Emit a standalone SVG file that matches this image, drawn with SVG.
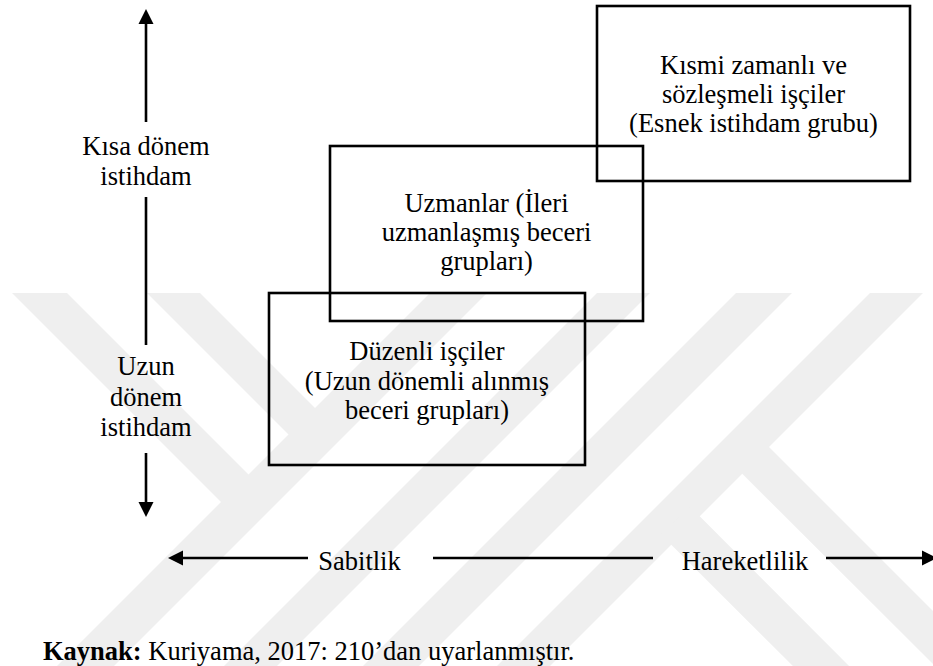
<svg xmlns="http://www.w3.org/2000/svg" width="933" height="666" viewBox="0 0 933 666">
  <defs>
    <marker id="head" markerUnits="userSpaceOnUse" markerWidth="16" markerHeight="16" refX="0" refY="7.5" orient="auto" overflow="visible">
      <path d="M0,0 L15,7.5 L0,15 Z" fill="#000"/>
    </marker>
    <style>
      .wm { fill: #efefef; stroke: none; }
      .box { fill: none; stroke: #000; stroke-width: 2.6; }
      .axis { fill: none; stroke: #000; stroke-width: 2.6; }
      .arrow { marker-end: url(#head); }
      text { font-family: 'Liberation Serif', 'Times New Roman', 'DejaVu Serif', serif; font-size: 26.5px; fill: #000; }
      .c { text-anchor: middle; }
      .b { font-weight: bold; }
    </style>
  </defs>
  <rect x="0" y="0" width="933" height="666" fill="#ffffff"/>

  <g id="watermark">
    <polygon class="wm" points="12,293 67,293 262.5,488.5 235,516"/>
    <polygon class="wm" points="147,293 200,293 329,422 302.5,448.5"/>
    <polygon class="wm" points="430,293 487,293 80,700 23,700"/>
    <polygon class="wm" points="597,293 650,293 243,700 190,700"/>
    <polygon class="wm" points="736,293 792,293 385,700 329,700"/>
    <polygon class="wm" points="870,293 923,293 516,700 463,700"/>
    <polygon class="wm" points="757,435 1022,700 969,700 730,461.5"/>
    <polygon class="wm" points="690,506.5 883,700 827,700 661,534.5"/>
  </g>

  <g id="connectors">
    <line class="axis arrow" x1="146" y1="122" x2="146" y2="24"/>
    <line class="axis" x1="146" y1="197" x2="146" y2="345"/>
    <line class="axis arrow" x1="146" y1="453" x2="146" y2="502"/>
    <line class="axis arrow" x1="308" y1="558" x2="183" y2="558"/>
    <line class="axis" x1="433" y1="558" x2="653" y2="558"/>
    <line class="axis arrow" x1="826" y1="558" x2="922" y2="558"/>
  </g>

  <g font-family="Liberation Serif, Times New Roman, serif">
    <g id="label-short-term">
      <text class="c" x="146" y="155">Kısa dönem</text>
      <text class="c" x="146" y="184.5">istihdam</text>
    </g>
    <g id="label-long-term">
      <text class="c" x="146" y="375">Uzun</text>
      <text class="c" x="146" y="405.5">dönem</text>
      <text class="c" x="146" y="436">istihdam</text>
    </g>
    <g id="label-stability">
      <text class="c" x="359.5" y="569.5">Sabitlik</text>
    </g>
    <g id="label-mobility">
      <text class="c" x="745" y="569.5">Hareketlilik</text>
    </g>

    <g id="node-flexible">
      <rect class="box" x="597" y="6" width="313" height="175"/>
      <text class="c" x="753.5" y="74">Kısmi zamanlı ve</text>
      <text class="c" x="753.5" y="103">sözleşmeli işçiler</text>
      <text class="c" x="753.5" y="132">(Esnek istihdam grubu)</text>
    </g>

    <g id="node-specialists">
      <rect class="box" x="330" y="146" width="313" height="175"/>
      <text class="c" x="486.5" y="212">Uzmanlar (İleri</text>
      <text class="c" x="486.5" y="241">uzmanlaşmış beceri</text>
      <text class="c" x="486.5" y="269.5">grupları)</text>
    </g>

    <g id="node-regular">
      <rect class="box" x="269" y="293" width="316" height="172"/>
      <text class="c" x="427" y="360">Düzenli işçiler</text>
      <text class="c" x="427" y="389.5">(Uzun dönemli alınmış</text>
      <text class="c" x="427" y="419">beceri grupları)</text>
    </g>

    <g id="caption">
      <text x="43" y="660"><tspan class="b">Kaynak:</tspan> Kuriyama, 2017: 210’dan uyarlanmıştır.</text>
    </g>
  </g>
</svg>
